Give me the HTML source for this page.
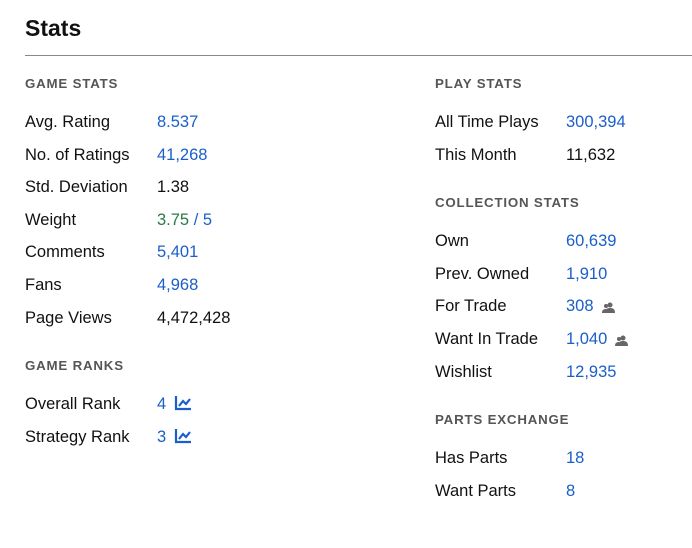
<!DOCTYPE html>
<html><head><meta charset="utf-8"><style>
body{margin:0;width:692px;height:548px;background:#fff;font-family:"Liberation Sans",sans-serif;position:relative;overflow:hidden;color:#111}
h1{position:absolute;left:25px;top:15px;margin:0;font-size:23px;font-weight:bold;color:#111}
.rule{position:absolute;left:25px;top:55px;width:667px;height:1px;background:#888}
.h{position:absolute;font-size:13.3px;font-weight:bold;color:#555;letter-spacing:0.8px;line-height:18px}
.l,.v{position:absolute;font-size:16.5px;line-height:24px;white-space:nowrap}
.v.b{color:#1a5fc9}
.g{color:#2a7a45}
.ic{display:inline-block;vertical-align:-2px;margin-left:8px}
</style></head><body>
<h1>Stats</h1>
<div class="rule"></div>

<div class="h" style="left:25px;top:75px">GAME STATS</div>
<div class="l" style="left:25px;top:110px">Avg. Rating</div>
<div class="v b" style="left:157px;top:110px">8.537</div>
<div class="l" style="left:25px;top:143px">No. of Ratings</div>
<div class="v b" style="left:157px;top:143px">41,268</div>
<div class="l" style="left:25px;top:175px">Std. Deviation</div>
<div class="v" style="left:157px;top:175px">1.38</div>
<div class="l" style="left:25px;top:208px">Weight</div>
<div class="v b" style="left:157px;top:208px"><span class="g">3.75</span> / 5</div>
<div class="l" style="left:25px;top:240px">Comments</div>
<div class="v b" style="left:157px;top:240px">5,401</div>
<div class="l" style="left:25px;top:273px">Fans</div>
<div class="v b" style="left:157px;top:273px">4,968</div>
<div class="l" style="left:25px;top:306px">Page Views</div>
<div class="v" style="left:157px;top:306px">4,472,428</div>

<div class="h" style="left:25px;top:357px">GAME RANKS</div>
<div class="l" style="left:25px;top:392px">Overall Rank</div>
<div class="v b" style="left:157px;top:392px">4<svg class="ic" width="18" height="16" viewBox="0 0 18 16"><path d="M2 1V14H17" fill="none" stroke="#1a5fc9" stroke-width="2.2"/><path d="M5 11L9 6L12 9L16 4" fill="none" stroke="#1a5fc9" stroke-width="2.2"/></svg></div>
<div class="l" style="left:25px;top:425px">Strategy Rank</div>
<div class="v b" style="left:157px;top:425px">3<svg class="ic" width="18" height="16" viewBox="0 0 18 16"><path d="M2 1V14H17" fill="none" stroke="#1a5fc9" stroke-width="2.2"/><path d="M5 11L9 6L12 9L16 4" fill="none" stroke="#1a5fc9" stroke-width="2.2"/></svg></div>

<div class="h" style="left:435px;top:75px">PLAY STATS</div>
<div class="l" style="left:435px;top:110px">All Time Plays</div>
<div class="v b" style="left:566px;top:110px">300,394</div>
<div class="l" style="left:435px;top:143px">This Month</div>
<div class="v" style="left:566px;top:143px">11,632</div>

<div class="h" style="left:435px;top:194px">COLLECTION STATS</div>
<div class="l" style="left:435px;top:229px">Own</div>
<div class="v b" style="left:566px;top:229px">60,639</div>
<div class="l" style="left:435px;top:262px">Prev. Owned</div>
<div class="v b" style="left:566px;top:262px">1,910</div>
<div class="l" style="left:435px;top:294px">For Trade</div>
<div class="v b" style="left:566px;top:294px">308<svg class="ic" width="13" height="11" viewBox="0 0 13 11"><circle cx="8" cy="3" r="2.5" fill="#666"/><path d="M3 11C3 7 5 6 8 6S13 7 13 11Z" fill="#666"/><circle cx="4" cy="4" r="2" fill="#666"/><path d="M0 11C0 8 1.5 7 4 7V11Z" fill="#666"/></svg></div>
<div class="l" style="left:435px;top:327px">Want In Trade</div>
<div class="v b" style="left:566px;top:327px">1,040<svg class="ic" width="13" height="11" viewBox="0 0 13 11"><circle cx="8" cy="3" r="2.5" fill="#666"/><path d="M3 11C3 7 5 6 8 6S13 7 13 11Z" fill="#666"/><circle cx="4" cy="4" r="2" fill="#666"/><path d="M0 11C0 8 1.5 7 4 7V11Z" fill="#666"/></svg></div>
<div class="l" style="left:435px;top:360px">Wishlist</div>
<div class="v b" style="left:566px;top:360px">12,935</div>

<div class="h" style="left:435px;top:411px">PARTS EXCHANGE</div>
<div class="l" style="left:435px;top:446px">Has Parts</div>
<div class="v b" style="left:566px;top:446px">18</div>
<div class="l" style="left:435px;top:479px">Want Parts</div>
<div class="v b" style="left:566px;top:479px">8</div>
</body></html>
